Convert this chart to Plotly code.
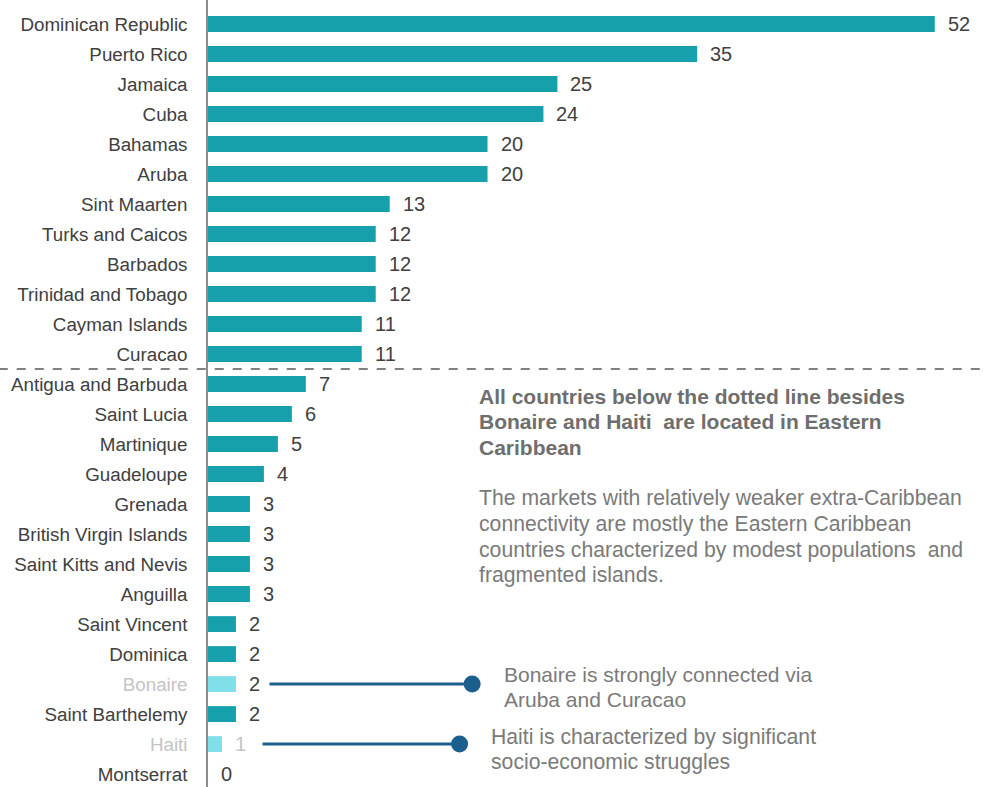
import plotly.graph_objects as go

countries = ["Dominican Republic", "Puerto Rico", "Jamaica", "Cuba", "Bahamas", "Aruba",
             "Sint Maarten", "Turks and Caicos", "Barbados", "Trinidad and Tobago",
             "Cayman Islands", "Curacao", "Antigua and Barbuda", "Saint Lucia", "Martinique",
             "Guadeloupe", "Grenada", "British Virgin Islands", "Saint Kitts and Nevis",
             "Anguilla", "Saint Vincent", "Dominica", "Bonaire", "Saint Barthelemy", "Haiti",
             "Montserrat"]
values = [52, 35, 25, 24, 20, 20, 13, 12, 12, 12, 11, 11, 7, 6, 5, 4, 3, 3, 3, 3, 2, 2, 2, 2, 1, 0]
highlighted = ["Bonaire", "Haiti"]

bold_note = ["All countries below the dotted line besides",
             "Bonaire and Haiti  are located in Eastern",
             "Caribbean"]
plain_note = ["The markets with relatively weaker extra-Caribbean",
              "connectivity are mostly the Eastern Caribbean",
              "countries characterized by modest populations  and",
              "fragmented islands."]
bonaire_note = ["Bonaire is strongly connected via", "Aruba and Curacao"]
haiti_note = ["Haiti is characterized by significant", "socio-economic struggles"]

TEAL = "#16a0ab"
LIGHT = "#80dfe9"
DARK_TXT = "#404040"
FAINT_TXT = "#c4c4c4"
NOTE_TXT = "#7a7a7a"
NAVY = "#1b5f8e"
FONT = "Arial, Liberation Sans, sans-serif"

bar_colors = [LIGHT if c in highlighted else TEAL for c in countries]
tick_text = [f"<span style='color:{FAINT_TXT}'>{c}</span>" if c in highlighted else c for c in countries]

fig = go.Figure()
fig.add_trace(go.Bar(
    y=countries, x=values, orientation="h",
    marker=dict(color=bar_colors, line=dict(width=0)),
    hoverinfo="x+y", showlegend=False,
))

# value labels
for c, v in zip(countries, values):
    fig.add_annotation(
        x=v, y=c, xref="x", yref="y", text=str(v), showarrow=False,
        xanchor="left", yanchor="middle", xshift=11,
        font=dict(family=FONT, size=20, color=FAINT_TXT if c == "Haiti" else DARK_TXT),
    )

# dashed separator between Curacao and Antigua
sep = countries.index("Curacao") + 0.5
fig.add_shape(type="line", xref="paper", yref="y", x0=-0.27, x1=1, y0=sep, y1=sep,
              line=dict(color="#808080", width=2, dash="dash"))

# callout lines for Bonaire and Haiti
callouts = [("Bonaire", 4.4, 18.9), ("Haiti", 3.9, 18.0)]
for name, x0, x1 in callouts:
    fig.add_trace(go.Scatter(
        x=[x0, x1], y=[name, name], mode="lines",
        line=dict(color=NAVY, width=3), hoverinfo="skip", showlegend=False,
    ))
    fig.add_trace(go.Scatter(
        x=[x1], y=[name], mode="markers",
        marker=dict(color=NAVY, size=17), hoverinfo="skip", showlegend=False,
    ))


def add_lines(lines, x, y0, dy, size, color, bold=False):
    for i, line in enumerate(lines):
        txt = f"<b>{line}</b>" if bold else line
        fig.add_annotation(
            x=x, y=y0 + i * dy, xref="x", yref="y", text=txt, showarrow=False,
            xanchor="left", yanchor="middle", align="left",
            font=dict(family=FONT, size=size, color=color),
        )


add_lines(bold_note, 19.25, 12.4, 0.85, 21, "#6e6e6e", bold=True)
add_lines(plain_note, 19.25, 15.8, 0.86, 21.2, NOTE_TXT)
add_lines(bonaire_note, 21.03, 21.67, 0.84, 21, NOTE_TXT)
add_lines(haiti_note, 20.1, 23.77, 0.84, 21.2, NOTE_TXT)

fig.update_layout(
    width=983, height=787,
    margin=dict(l=208, r=0, t=0, b=0),
    paper_bgcolor="white", plot_bgcolor="white",
    bargap=0.47,
    font=dict(family=FONT, color=DARK_TXT),
    xaxis=dict(range=[0, 55.45], showgrid=False, zeroline=False, showticklabels=False,
               showline=False, fixedrange=True),
    yaxis=dict(categoryorder="array", categoryarray=countries, range=[25.43, -0.8],
               tickmode="array", tickvals=countries, ticktext=tick_text,
               showgrid=False, zeroline=False, showline=True, linecolor="#8c8c8c",
               linewidth=1.5, ticks="", ticklabelstandoff=15,
               tickfont=dict(family=FONT, size=18.8, color=DARK_TXT)),
)

fig.write_html("out.html")
